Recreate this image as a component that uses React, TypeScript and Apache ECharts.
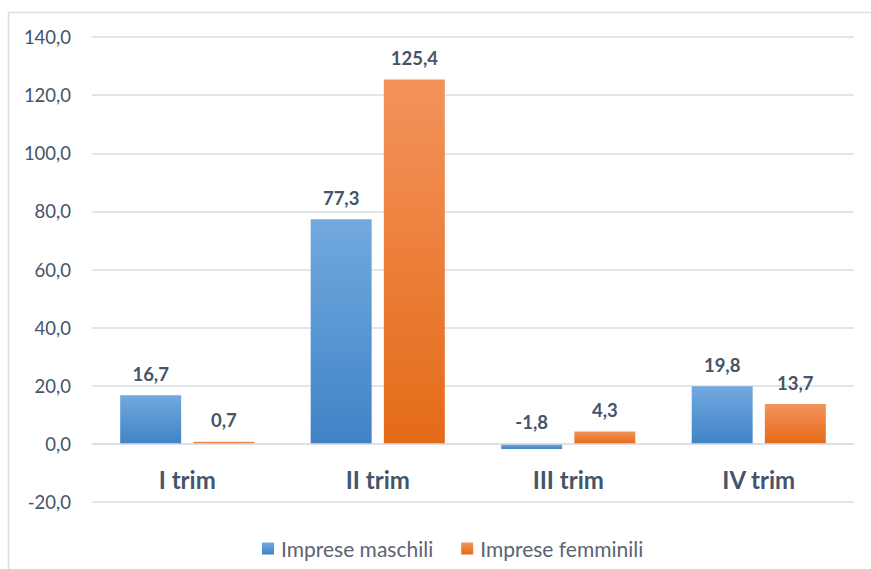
import React, { useEffect, useRef } from "react";
import * as echarts from "echarts";

const categories = ["I trim", "II trim", "III trim", "IV trim"];
const maschili = [16.7, 77.3, -1.8, 19.8];
const femminili = [0.7, 125.4, 4.3, 13.7];
const seriesNames = ["Imprese maschili", "Imprese femminili"];

const FONT = "Lato, 'Open Sans', sans-serif";
const TEXT = "#44546A";
const fmt = (v: number) => v.toFixed(1).replace(".", ",");

export default function App() {
  const ref = useRef<HTMLDivElement>(null);
  useEffect(() => {
    if (!ref.current) return;
    const chart = echarts.init(ref.current, null, { renderer: "svg" });
    const grad = (top: string, bottom: string) =>
      new echarts.graphic.LinearGradient(0, 0, 0, 1, [
        { offset: 0, color: top },
        { offset: 1, color: bottom },
      ]);
    const labelCfg = {
      show: true,
      position: "top" as const,
      distance: 12,
      fontFamily: FONT,
      fontWeight: "bold" as const,
      fontSize: 18.5,
      color: TEXT,
      formatter: (p: any) => fmt(p.value),
    };
    chart.setOption({
      animation: false,
      backgroundColor: "#ffffff",
      textStyle: { fontFamily: FONT },
      graphic: [
        {
          type: "rect",
          left: 6,
          top: 10,
          shape: { width: 900, height: 600 },
          style: { fill: "none", stroke: "#D9DEE6", lineWidth: 1.5 },
          z: -10,
        },
      ],
      grid: { left: 92, right: 17, top: 37, bottom: 67, containLabel: false },
      legend: {
        bottom: 5,
        left: 257,
        itemWidth: 12,
        itemHeight: 12,
        itemGap: 28,
        icon: "rect",
        textStyle: { fontFamily: FONT, fontSize: 21, color: "#596475", padding: [0, 0, 0, 2] },
        data: seriesNames,
      },
      xAxis: {
        type: "category",
        data: categories,
        z: 5,
        offset: -58.1,
        axisLine: { show: true, onZero: false, lineStyle: { color: "#D9DEE6", width: 1.5 } },
        axisTick: { show: false },
        axisLabel: {
          margin: 24,
          fontFamily: FONT,
          fontWeight: "bold",
          fontSize: 24,
          color: TEXT,
        },
      },
      yAxis: {
        type: "value",
        min: -20,
        max: 140,
        interval: 20,
        axisLine: { show: false },
        axisTick: { show: false },
        splitLine: { lineStyle: { color: "#D9DEE6", width: 1.5 } },
        axisLabel: {
          margin: 21,
          fontFamily: FONT,
          fontSize: 18.5,
          color: TEXT,
          formatter: (v: number) => fmt(v),
        },
      },
      series: [
        {
          name: seriesNames[0],
          type: "bar",
          data: maschili,
          barWidth: "32%",
          barGap: "20%",
          itemStyle: { color: grad("#72A9DF", "#3F83C6") },
          label: labelCfg,
        },
        {
          name: seriesNames[1],
          type: "bar",
          data: femminili,
          barWidth: "32%",
          barGap: "20%",
          itemStyle: { color: grad("#F3935C", "#E46B17") },
          label: labelCfg,
        },
      ],
    });
    return () => chart.dispose();
  }, []);
  return (
    <div
      ref={ref}
      style={{ position: "absolute", left: 0, top: 0, width: 871, height: 569 }}
    />
  );
}
